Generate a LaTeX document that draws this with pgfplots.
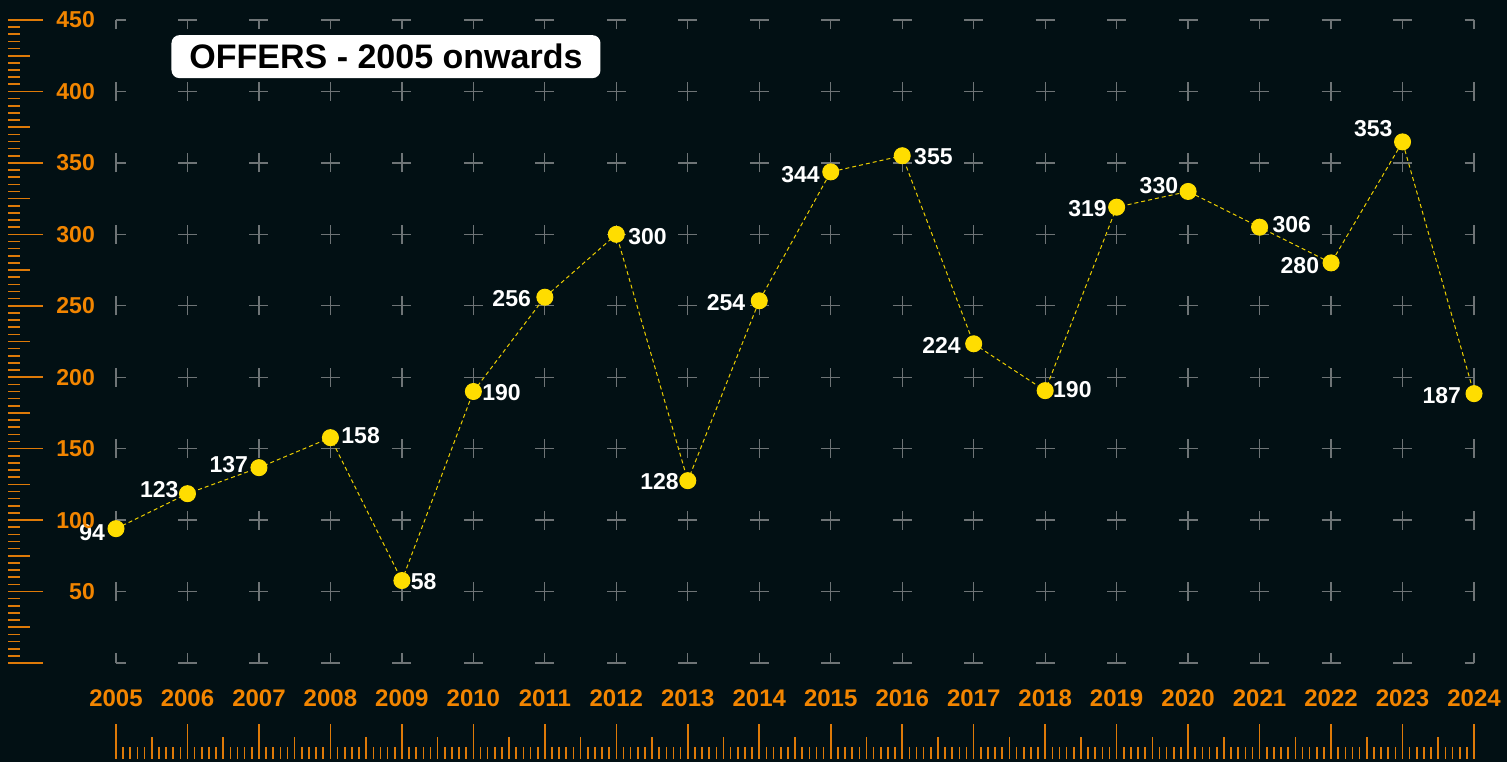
\documentclass[border=0pt]{standalone}
\usepackage{pgfplots}
\usepackage{pgfplotstable}
\pgfplotsset{compat=1.18}
\usepackage{fontspec}
\setmainfont{Liberation Sans}
\definecolor{bg}{RGB}{2,16,20}
\definecolor{org}{RGB}{242,133,0}
\definecolor{rul}{RGB}{222,122,8}
\definecolor{gridc}{RGB}{110,116,118}
\definecolor{dot}{RGB}{255,221,0}
\definecolor{ln}{RGB}{235,205,0}

\pgfplotstableread{
x y lab dx dy
2005 94 94 -23.8 -4
2006 118.5 123 -28.2 4
2007 136.7 137 -30.2 3
2008 157.7 158 30.2 2
2009 57.7 58 21.8 -1
2010 190 190 28.2 -1
2011 256 256 -33.2 -1
2012 300 300 31.2 -2
2013 127.6 128 -28.2 -1
2014 253.5 254 -33.2 -2
2015 343.7 344 -30.2 -3
2016 355 355 31.2 -1
2017 223.4 224 -32.2 -2
2018 190.6 190 27.2 1
2019 319 319 -29.2 -1
2020 330 330 -29.2 6
2021 305 306 32.2 3
2022 280 280 -31.2 -3
2023 364.7 353 -29.2 13
2024 188.5 187 -32.2 -2
}\data

\begin{document}
\begin{tikzpicture}
\path[use as bounding box, fill=bg] (0,0) rectangle (1507pt,762pt);

% main axis
\begin{axis}[
  at={(116pt,99pt)}, anchor=south west,
  scale only axis, width=1358pt, height=643pt,
  xmin=2005, xmax=2024, ymin=0, ymax=450,
  xtick={2005,2006,...,2024},
  xticklabels={2005,2006,2007,2008,2009,2010,2011,2012,2013,2014,2015,2016,2017,2018,2019,2020,2021,2022,2023,2024},
  ytick={0,50,...,450}, yticklabels={},
  grid=major,
  x grid style={gridc, line width=1.3pt, dash pattern=on 9.5pt off 52.444pt on 9.5pt off 0pt},
  y grid style={gridc, line width=1.3pt, dash pattern=on 9.5pt off 52.474pt on 9.5pt off 0pt},
  axis line style={draw=none},
  major tick length=0pt, tick style={draw=none},
  xticklabel style={font=\fontsize{24}{24}\selectfont\bfseries, text=org, anchor=base, inner sep=0pt, yshift=-44pt},
  clip=false,
]
\node[fill=white, rounded corners=8pt, text=black, font=\fontsize{34}{34}\selectfont\bfseries,
  minimum width=429pt, minimum height=43pt, inner sep=0pt] at (rel axis cs:0.1988,0.943) {OFFERS - 2005 onwards};
\addplot[ln, dash pattern=on 4pt off 3pt, line width=1pt,
  mark=*, mark size=8pt, mark options={solid, fill=dot, draw=dot},
  point meta=explicit symbolic,
  visualization depends on={\thisrow{dx}\as\dx},
  visualization depends on={\thisrow{dy}\as\dy},
  nodes near coords,
  nodes near coords style={anchor=center, xshift=\dx pt, yshift=\dy pt, text=white, font=\fontsize{23}{23}\selectfont\bfseries, inner sep=0pt},
] table[x=x, y=y, meta=lab]{\data};
\end{axis}

% y ruler
\begin{axis}[
  at={(8pt,99pt)}, anchor=south west,
  scale only axis, width=1pt, height=643pt,
  xmin=0, xmax=1, ymin=0, ymax=450,
  axis x line=none, axis y line*=left,
  y axis line style={draw=none},
  ytick={0,50,...,450},
  yticklabels={,50,100,150,200,250,300,350,400,450},
  minor ytick={0,5,...,450},
  extra y ticks={25,75,...,425}, extra y tick labels={},
  extra tick style={major tick length=22pt},
  tick align=inside, major tick length=35pt, minor tick length=12pt,
  tick style={rul, line width=1.6pt},
  yticklabel style={text=org, font=\fontsize{23}{23}\selectfont\bfseries, anchor=east, inner sep=0pt, xshift=87pt},
  clip=false,
]
\end{axis}

% x ruler
\begin{axis}[
  at={(116pt,3pt)}, anchor=south west,
  scale only axis, width=1358pt, height=1pt,
  xmin=0, xmax=190, ymin=0, ymax=1,
  axis y line=none, axis x line*=bottom,
  x axis line style={draw=none},
  xtick={0,10,...,190}, xticklabels={},
  minor xtick={0,1,...,190},
  extra x ticks={5,15,...,185}, extra x tick labels={},
  extra tick style={major tick length=22pt},
  tick align=inside, major tick length=35pt, minor tick length=12pt,
  tick style={rul, line width=1.6pt},
  clip=false,
]
\end{axis}
\end{tikzpicture}
\end{document}
